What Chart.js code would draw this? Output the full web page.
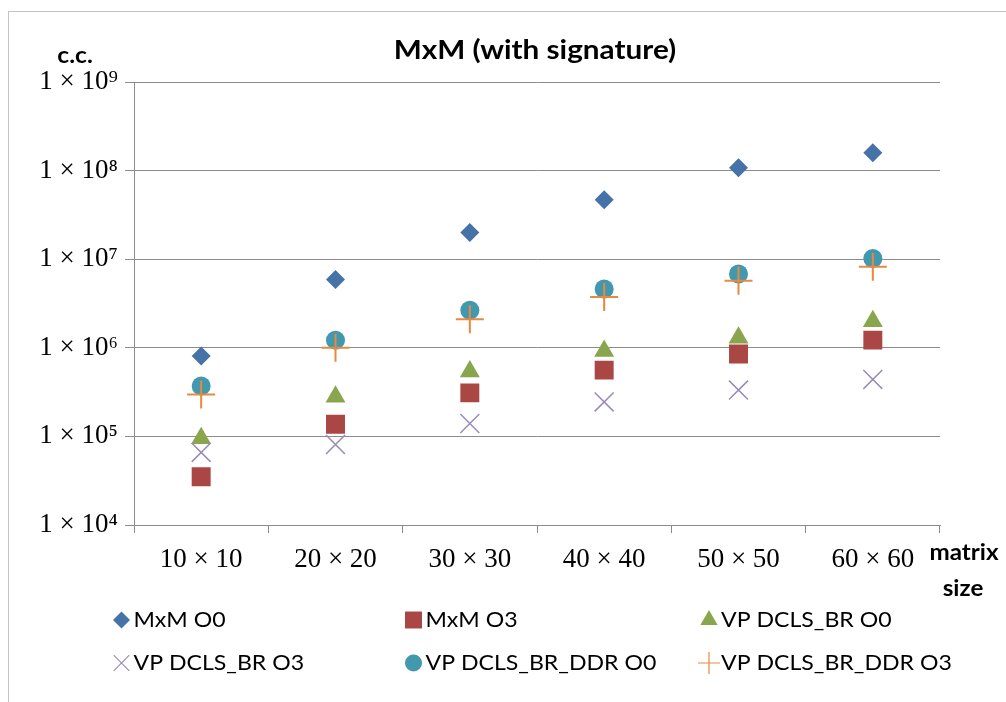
<!DOCTYPE html>
<html>
<head>
<meta charset="utf-8">
<title>MxM (with signature)</title>
<script src="https://cdn.jsdelivr.net/npm/chart.js@4/dist/chart.umd.min.js"></script>
<style>
  html, body { margin: 0; padding: 0; background: #fff; }
  #wrap { position: relative; width: 1006px; height: 702px; }
</style>
</head>
<body>
<div id="wrap"><canvas id="chart"></canvas></div>
<script>
// Matrix sizes on the x axis
const sizes = ['10 × 10', '20 × 20', '30 × 30', '40 × 40', '50 × 50', '60 × 60'];

// Clock cycles per configuration
const mxmO0      = [8.1e5, 5.9e6, 2.0e7, 4.7e7, 1.08e8, 1.59e8];
const mxmO3      = [3.5e4, 1.37e5, 3.1e5, 5.6e5, 8.5e5, 1.22e6];
const dclsBrO0   = [9.5e4, 2.8e5, 5.4e5, 9.2e5, 1.3e6, 2.0e6];
const dclsBrO3   = [6.6e4, 8.1e4, 1.4e5, 2.45e5, 3.33e5, 4.4e5];
const dclsDdrO0  = [3.7e5, 1.22e6, 2.65e6, 4.6e6, 6.8e6, 1.02e7];
const dclsDdrO3  = [2.97e5, 1.0e6, 2.1e6, 3.75e6, 5.7e6, 8.2e6];

const seriesNames = ['MxM O0', 'MxM O3', 'VP DCLS_BR O0', 'VP DCLS_BR O3', 'VP DCLS_BR_DDR O0', 'VP DCLS_BR_DDR O3'];

// Powers of ten shown on the y axis
const yTicks = [1e4, 1e5, 1e6, 1e7, 1e8, 1e9];

const SUP = { '0': '⁰', '1': '¹', '2': '²', '3': '³', '4': '⁴', '5': '⁵', '6': '⁶', '7': '⁷', '8': '⁸', '9': '⁹' };
function powLabel(v) {
  const e = Math.round(Math.log10(v));
  return '1 × 10' + String(e).split('').map(c => SUP[c]).join('');
}

const styles = [
  { pointStyle: 'rectRot',  radius: 9.5,  color: '#4572A7', border: 0,   legendRadius: 8.5, legendBorder: 0 },
  { pointStyle: 'rect',     radius: 13.4, color: '#AA4643', border: 0,   legendRadius: 12,  legendBorder: 0 },
  { pointStyle: 'triangle', radius: 11.5, color: '#89A54E', border: 0,   legendRadius: 10,  legendBorder: 0 },
  { pointStyle: 'crossRot', radius: 13.4, color: '#9A8AB8', border: 1.5, legendRadius: 11,  legendBorder: 1.1 },
  { pointStyle: 'circle',   radius: 9.5,  color: '#4198AF', border: 0,   legendRadius: 8.5, legendBorder: 0 },
  { pointStyle: 'cross',    radius: 14,   color: '#E8893E', border: 2,   legendRadius: 11,  legendBorder: 1.2 }
];

const seriesData = [mxmO0, mxmO3, dclsBrO0, dclsBrO3, dclsDdrO0, dclsDdrO3];

const datasets = seriesData.map((d, i) => ({
  label: seriesNames[i],
  data: d,
  showLine: false,
  order: 10 - i,
  pointStyle: styles[i].pointStyle,
  pointRadius: styles[i].radius,
  pointHoverRadius: styles[i].radius,
  pointBackgroundColor: styles[i].color,
  pointBorderColor: styles[i].color,
  pointBorderWidth: styles[i].border,
  backgroundColor: styles[i].color,
  borderColor: styles[i].color
}));

function stretchText(ctx, text, x, y, font, align, sx) {
  ctx.save();
  ctx.font = font;
  ctx.textBaseline = 'middle';
  ctx.fillStyle = '#000';
  ctx.translate(x, y);
  ctx.scale(sx, 1);
  const w = ctx.measureText(text).width;
  let dx = 0;
  if (align === 'center') dx = -w / 2;
  else if (align === 'right') dx = -w;
  ctx.textAlign = 'left';
  ctx.fillText(text, dx, 0);
  ctx.restore();
}

// Frame, title, axis captions and the two-row legend
const decorations = {
  id: 'decorations',
  beforeDraw(chart) {
    const ctx = chart.ctx;
    ctx.save();
    ctx.fillStyle = '#fff';
    ctx.fillRect(0, 0, chart.width, chart.height);
    ctx.strokeStyle = '#c4c4c4';
    ctx.lineWidth = 1;
    ctx.strokeRect(8.5, 11.5, 1200, 1000);
    ctx.restore();
  },
  afterDraw(chart) {
    const ctx = chart.ctx;
    stretchText(ctx, 'MxM (with signature)', 535, 50, 'bold 27px Lato', 'center', 1.1);
    stretchText(ctx, 'c.c.', 75, 56, 'bold 22px Lato', 'center', 1.12);
    stretchText(ctx, 'matrix', 964, 553, 'bold 22px Lato', 'center', 1.1);
    stretchText(ctx, 'size', 963, 589, 'bold 22px Lato', 'center', 1.1);

    const cols = [121.5, 413.5, 709];
    const rows = [620, 663];
    seriesNames.forEach((name, i) => {
      const cx = cols[i % 3];
      const cy = rows[Math.floor(i / 3)];
      const st = styles[i];
      ctx.save();
      ctx.fillStyle = st.color;
      ctx.strokeStyle = st.color;
      ctx.lineWidth = st.legendBorder;
      Chart.helpers.drawPoint(ctx, {
        pointStyle: st.pointStyle,
        radius: st.legendRadius,
        rotation: 0,
        borderWidth: st.legendBorder
      }, cx, cy);
      ctx.restore();
      stretchText(ctx, name, cx + 12, cy, '21px Lato', 'left', 1.1);
    });
  }
};

new Chart(document.getElementById('chart'), {
  type: 'line',
  data: { labels: sizes, datasets },
  options: {
    responsive: true,
    maintainAspectRatio: false,
    animation: false,
    events: [],
    layout: { padding: { left: 0, top: 82, right: 66, bottom: 127 } },
    plugins: { legend: { display: false }, title: { display: false }, tooltip: { enabled: false } },
    scales: {
      x: {
        type: 'category',
        offset: true,
        grid: { offset: true, drawOnChartArea: false, drawTicks: true, tickLength: 8, color: '#8c8c8c' },
        border: { color: '#8c8c8c' },
        ticks: { color: '#000', font: { family: 'Liberation Serif', size: 27 }, padding: 11, maxRotation: 0, autoSkip: false },
        afterFit(scale) { scale.height = 50; }
      },
      y: {
        type: 'logarithmic',
        min: 1e4,
        max: 1e9,
        afterBuildTicks(scale) { scale.ticks = yTicks.map(v => ({ value: v, major: true })); },
        afterFit(scale) { scale.width = 134; },
        grid: { color: '#8c8c8c', tickLength: 9 },
        border: { color: '#8c8c8c' },
        ticks: {
          color: '#000',
          font: { family: 'Liberation Serif', size: 27 },
          padding: 7,
          autoSkip: false,
          callback: (v) => powLabel(v)
        }
      }
    }
  },
  plugins: [decorations]
});
</script>
</body>
</html>
